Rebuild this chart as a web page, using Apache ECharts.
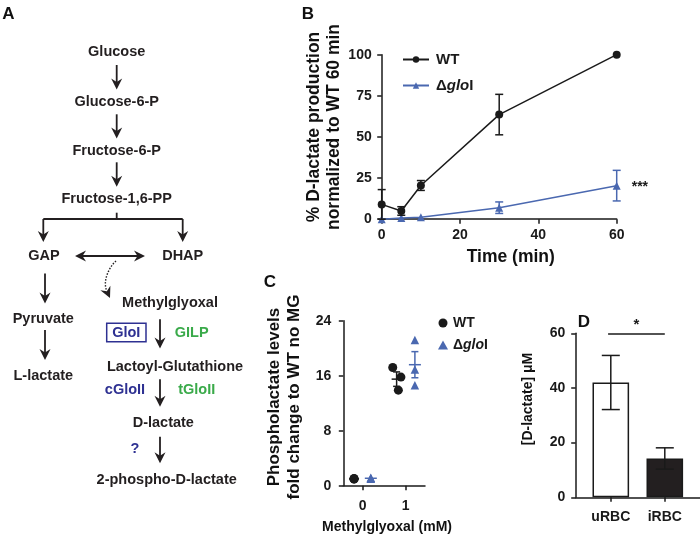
<!DOCTYPE html>
<html><head><meta charset="utf-8">
<script src="https://cdn.jsdelivr.net/npm/echarts@6/dist/echarts.min.js"></script>
<style>html,body{margin:0;padding:0;background:#fff}#c{width:700px;height:534px}</style>
</head><body><div id="c"></div>
<script>
// ---------- Panel B data ----------
const timeMin = [0, 5, 10, 30, 60];
const wtMean  = [9, 5, 20.5, 63.6, 100];
const wtErr   = [9, 2.6, 3, 12.3, 0];
const gloMean = [0, 0.8, 1.2, 7, 20.4];
const gloErr  = [0, 0, 0, 3.5, 9.3];
// ---------- Panel C data ----------
const cDoseTicks = [0, 1];
const cWtX  = [-0.2, -0.2, -0.2, 0.7, 0.89, 0.83];
const cWtY  = [1.0, 0.95, 1.05, 17.2, 15.8, 13.9];
const cGloX = [0.19, 0.19, 0.19, 1.215, 1.215, 1.215];
const cGloY = [1.1, 1.0, 1.15, 21.2, 16.9, 14.6];
const cWtMeanX  = [-0.2, 0.79];
const cWtMean   = [1.0, 15.5];
const cWtSem    = [0.03, 1.05];
const cGloMeanX = [0.19, 1.215];
const cGloMean  = [1.08, 17.6];
const cGloSem   = [0.05, 1.9];
// ---------- Panel D data ----------
const dCats = ['uRBC', 'iRBC'];
const dMean = [42, 14.2];
const dErr  = [9.9, 3.9];

const FONT = '"Liberation Sans", Arial, sans-serif';
const INK = '#1a1a1a';
const BLUE = '#4a68b0';
const PBLUE = '#2e3192';
const GREEN = '#3aaa4a';

function errRender(capW, color) {
  return function (params, api) {
    const x = api.value(0), y = api.value(1), e = api.value(2);
    if (!e) return null;
    const t = api.coord([x, y + e]), b = api.coord([x, y - e]);
    const st = { stroke: color, lineWidth: 1.5 };
    return { type: 'group', children: [
      { type: 'line', shape: { x1: t[0], y1: t[1], x2: b[0], y2: b[1] }, style: st },
      { type: 'line', shape: { x1: t[0] - capW / 2, y1: t[1], x2: t[0] + capW / 2, y2: t[1] }, style: st },
      { type: 'line', shape: { x1: b[0] - capW / 2, y1: b[1], x2: b[0] + capW / 2, y2: b[1] }, style: st }
    ]};
  };
}
function meanRender(meanW, capW, color) {
  return function (params, api) {
    const x = api.value(0), y = api.value(1), e = api.value(2);
    const m = api.coord([x, y]), t = api.coord([x, y + e]), b = api.coord([x, y - e]);
    const st = { stroke: color, lineWidth: 1.5 };
    const ch = [{ type: 'line', shape: { x1: m[0] - meanW / 2, y1: m[1], x2: m[0] + meanW / 2, y2: m[1] }, style: st }];
    if (e > 0.2) {
      ch.push({ type: 'line', shape: { x1: t[0], y1: t[1], x2: b[0], y2: b[1] }, style: st });
      ch.push({ type: 'line', shape: { x1: t[0] - capW / 2, y1: t[1], x2: t[0] + capW / 2, y2: t[1] }, style: st });
      ch.push({ type: 'line', shape: { x1: b[0] - capW / 2, y1: b[1], x2: b[0] + capW / 2, y2: b[1] }, style: st });
    }
    return { type: 'group', children: ch };
  };
}

// ---------- Panel A graphics ----------
const G = [];
function txt(s, x, y, color, size, extra) {
  G.push(Object.assign({ type: 'text', x: x, y: y, silent: true,
    style: { text: s, align: 'center', verticalAlign: 'middle', fill: color || '#231f20',
      fontSize: size || 14.5, fontWeight: 'bold', fontFamily: FONT } }, extra || {}));
}
function seg(x1, y1, x2, y2, dash) {
  G.push({ type: 'line', silent: true, shape: { x1, y1, x2, y2 },
    style: { stroke: '#231f20', lineWidth: 1.8, lineDash: dash || null } });
}
function head(x2, y2, ux, uy) {
  const hl = 11, hw = 5.5, bx = x2 - ux * hl, by = y2 - uy * hl;
  G.push({ type: 'polygon', silent: true, shape: { points: [
    [x2, y2], [bx - uy * hw, by + ux * hw], [bx + ux * 3.5, by + uy * 3.5], [bx + uy * hw, by - ux * hw]] },
    style: { fill: '#231f20' } });
}
function arrow(x1, y1, x2, y2) {
  const dx = x2 - x1, dy = y2 - y1, L = Math.hypot(dx, dy), ux = dx / L, uy = dy / L;
  seg(x1, y1, x2 - ux * 6, y2 - uy * 6);
  head(x2, y2, ux, uy);
}
txt('A', 8.5, 14, '#111', 17);
txt('B', 308, 14, '#111', 17);
txt('C', 270, 282, '#111', 17);
txt('D', 584, 322, '#111', 17);

txt('Glucose', 116.7, 52.3);
arrow(116.7, 65, 116.7, 89.5);
txt('Glucose-6-P', 116.7, 101.7);
arrow(116.7, 114.3, 116.7, 138.5);
txt('Fructose-6-P', 116.7, 151);
arrow(116.7, 162.3, 116.7, 186.7);
txt('Fructose-1,6-PP', 116.7, 199.3);
seg(116.7, 212.7, 116.7, 219);
seg(43.3, 219, 182.7, 219);
arrow(43.3, 219, 43.3, 242);
arrow(182.7, 219, 182.7, 242);
txt('GAP', 44, 256);
txt('DHAP', 182.7, 256);
// double arrow
seg(80, 256, 140, 256);
head(75, 256, -1, 0);
head(145, 256, 1, 0);
// dotted curve
G.push({ type: 'bezierCurve', silent: true,
  shape: { x1: 116, y1: 261, cpx1: 108, cpy1: 268, cpx2: 103, cpy2: 282, x2: 106.5, y2: 290 },
  style: { stroke: '#231f20', lineWidth: 1.4, lineDash: [1.5, 1.5], fill: null } });
head(110, 298, 0.42, 0.91);
arrow(45, 273.5, 45, 303.5);
txt('Pyruvate', 43.3, 319.3);
arrow(45, 330, 45, 360);
txt('L-lactate', 43.3, 376);
txt('Methylglyoxal', 170, 303.3);
arrow(160, 319.3, 160, 348.5);
G.push({ type: 'rect', silent: true, shape: { x: 106.7, y: 323.3, width: 39.3, height: 18.4 },
  style: { stroke: PBLUE, lineWidth: 1.5, fill: null } });
txt('GloI', 126.3, 332.7, PBLUE);
txt('GILP', 191.7, 332.7, GREEN);
txt('Lactoyl-Glutathione', 175, 366.7);
arrow(160, 379.3, 160, 406.7);
txt('cGloII', 125, 390, PBLUE);
txt('tGloII', 196.7, 390, GREEN);
txt('D-lactate', 163.3, 422.7);
arrow(160, 436.7, 160, 463.3);
txt('?', 135, 449.3, PBLUE);
txt('2-phospho-D-lactate', 166.7, 480);

// axis titles
txt('% D-lactate production\nnormalized to WT 60 min', 324, 127, '#111', 17.5, { rotation: Math.PI / 2 });
G[G.length - 1].style.lineHeight = 20;
txt('Time (min)', 510.8, 257, '#111', 17.5);
txt('Phospholactate levels\nfold change to WT no MG', 284.5, 397, '#111', 17, { rotation: Math.PI / 2 });
G[G.length - 1].style.lineHeight = 19.5;
txt('Methylglyoxal (mM)', 387, 527, '#111', 14);
txt('[D-lactate] μM', 528.3, 399, '#111', 14, { rotation: Math.PI / 2 });

const axStyle = { lineStyle: { color: INK, width: 1.5 } };
const lbl = { color: INK, fontWeight: 'bold', fontSize: 14, fontFamily: FONT };
function vAxis(gi, min, max, interval, margin, extra) {
  return Object.assign({ type: 'value', gridIndex: gi, min, max, interval,
    axisLine: Object.assign({ show: true, onZero: false }, axStyle),
    axisTick: Object.assign({ show: true, length: 4.5 }, axStyle),
    splitLine: { show: false },
    axisLabel: Object.assign({ margin }, lbl) }, extra || {});
}
const rich = {
  n: { fontWeight: 'bold', fontSize: 15, fontFamily: FONT, color: INK },
  i: { fontWeight: 'bold', fontStyle: 'italic', fontSize: 15, fontFamily: FONT, color: INK }
};
const richC = {
  n: { fontWeight: 'bold', fontSize: 14, fontFamily: FONT, color: INK },
  i: { fontWeight: 'bold', fontStyle: 'italic', fontSize: 14, fontFamily: FONT, color: INK }
};

const option = {
  animation: false,
  backgroundColor: '#fff',
  graphic: G,
  grid: [
    { left: 381.7, top: 54.7, width: 235, height: 164.5 },
    { left: 343.3, top: 320.7, width: 81.7, height: 165 },
    { left: 575.7, top: 333.3, width: 124.2, height: 164 }
  ],
  xAxis: [
    vAxis(0, 0, 60, 20, 9),
    vAxis(1, -0.45, 1.45, 1, 13, {
      axisLabel: Object.assign({ margin: 13, customValues: cDoseTicks }, lbl),
      axisTick: Object.assign({ show: true, length: 4.5, customValues: cDoseTicks }, axStyle) }),
    vAxis(2, -0.65, 1.65, 1, 13, {
      axisLabel: Object.assign({ margin: 13, customValues: [0, 1], formatter: v => dCats[Math.round(v)] }, lbl),
      axisTick: Object.assign({ show: true, length: 4.5, customValues: [0, 1] }, axStyle) })
  ],
  yAxis: [
    vAxis(0, 0, 100, 25, 10),
    vAxis(1, 0, 24, 8, 12),
    vAxis(2, 0, 60, 20, 10.5)
  ],
  legend: [
    { orient: 'vertical', left: 397, top: 47, itemWidth: 26, itemHeight: 8, itemGap: 11,
      data: ['WT', 'Δglol'], textStyle: { rich: rich, padding: [0, 0, 0, 2] },
      formatter: n => n === 'WT' ? '{n|WT}' : '{n|Δ}{i|glo}{n|I}' },
    { orient: 'vertical', left: 433, top: 311, itemWidth: 10, itemHeight: 9, itemGap: 8,
      data: ['C-WT', 'C-glo'], textStyle: { rich: richC },
      formatter: n => n === 'C-WT' ? '{n|WT}' : '{n|Δ}{i|glo}{n|I}' }
  ],
  series: [
    { name: 'WT', type: 'line', xAxisIndex: 0, yAxisIndex: 0, z: 4,
      data: timeMin.map((t, i) => [t, wtMean[i]]),
      symbol: 'circle', symbolSize: 8, color: INK,
      lineStyle: { color: INK, width: 1.5 }, itemStyle: { color: INK } },
    { name: 'Δglol', type: 'line', xAxisIndex: 0, yAxisIndex: 0, z: 3,
      data: timeMin.map((t, i) => i === timeMin.length - 1 ?
        { value: [t, gloMean[i]], label: { show: true, position: 'right', distance: 11, formatter: '***',
          color: INK, fontSize: 14, fontWeight: 'bold', fontFamily: FONT, offset: [0, 1] } } : [t, gloMean[i]]),
      symbol: 'triangle', symbolSize: 8, color: BLUE,
      lineStyle: { color: BLUE, width: 1.5 }, itemStyle: { color: BLUE } },
    { type: 'custom', xAxisIndex: 0, yAxisIndex: 0, z: 5, renderItem: errRender(8, INK),
      encode: { x: 0, y: 1 }, data: timeMin.map((t, i) => [t, wtMean[i], wtErr[i]]) },
    { type: 'custom', xAxisIndex: 0, yAxisIndex: 0, z: 5, renderItem: errRender(8, BLUE),
      encode: { x: 0, y: 1 }, data: timeMin.map((t, i) => [t, gloMean[i], gloErr[i]]) },
    // Panel C
    { name: 'C-WT', type: 'scatter', xAxisIndex: 1, yAxisIndex: 1, symbol: 'circle', symbolSize: 9,
      itemStyle: { color: INK, opacity: 1 }, data: cWtX.map((x, i) => [x, cWtY[i]]) },
    { name: 'C-glo', type: 'scatter', xAxisIndex: 1, yAxisIndex: 1, symbol: 'triangle', symbolSize: 8.5,
      itemStyle: { color: BLUE, opacity: 1 }, data: cGloX.map((x, i) => [x, cGloY[i]]) },
    { type: 'custom', xAxisIndex: 1, yAxisIndex: 1, z: 5, renderItem: meanRender(10, 7, INK),
      encode: { x: 0, y: 1 }, data: cWtMeanX.map((x, i) => [x, cWtMean[i], cWtSem[i]]) },
    { type: 'custom', xAxisIndex: 1, yAxisIndex: 1, z: 5, renderItem: meanRender(12, 7, BLUE),
      encode: { x: 0, y: 1 }, data: cGloMeanX.map((x, i) => [x, cGloMean[i], cGloSem[i]]) },
    // Panel D
    { type: 'bar', xAxisIndex: 2, yAxisIndex: 2, barWidth: 36.6,
      data: dMean.map((v, i) => ({ value: [i, v], itemStyle: i === 0 ?
        { color: '#ffffff', borderColor: INK, borderWidth: 1.5 } :
        { color: '#231f20', borderColor: INK, borderWidth: 1.5 } })),
      markLine: { silent: true, symbol: 'none', lineStyle: { color: INK, width: 1.5, type: 'solid' },
        label: { show: true, position: 'middle', formatter: '*', color: INK, fontSize: 15, fontWeight: 'bold', distance: 1 },
        data: [[{ coord: [-0.05, 60] }, { coord: [1.0, 60] }]] } },
    { type: 'custom', xAxisIndex: 2, yAxisIndex: 2, z: 5, renderItem: errRender(18, INK),
      encode: { x: 0, y: 1 }, data: dMean.map((v, i) => [i, v, dErr[i]]) }
  ]
};
const chart = echarts.init(document.getElementById('c'), null, { renderer: 'canvas' });
chart.setOption(option);
</script>
</body></html>
